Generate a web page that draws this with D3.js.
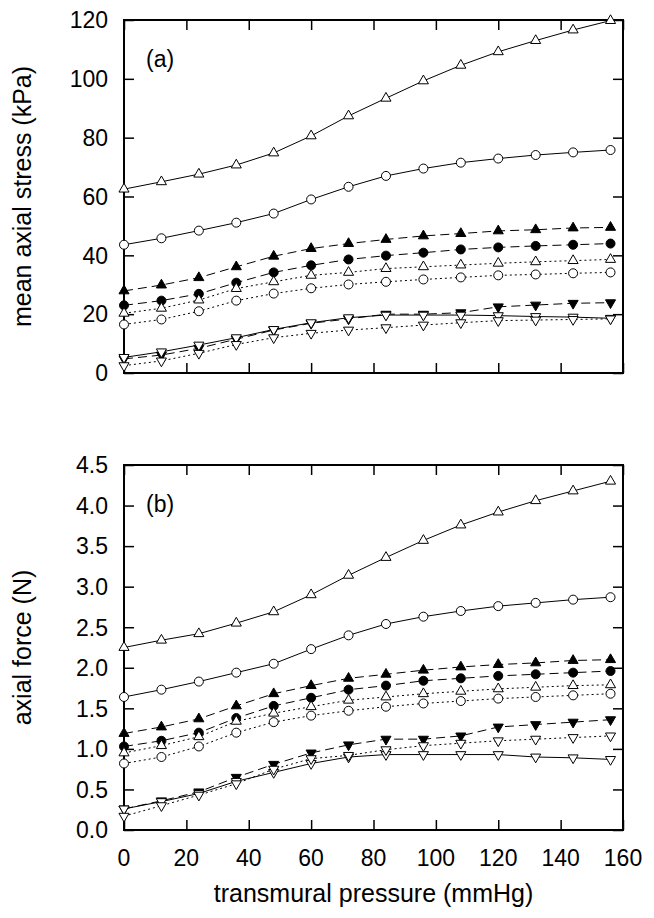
<!DOCTYPE html>
<html>
<head>
<meta charset="utf-8">
<script src="https://cdn.jsdelivr.net/npm/d3@7"></script>
<style>
html, body { margin: 0; padding: 0; background: #fff; }
svg { display: block; }
text { font-family: "Liberation Sans", Arial, sans-serif; fill: #000; }
</style>
</head>
<body>
<svg id="chart" width="654" height="918"></svg>
<script>
// ---------- data ----------
const pressure = [0, 12, 24, 36, 48, 60, 72, 84, 96, 108, 120, 132, 144, 156];
const xTicks = [0, 20, 40, 60, 80, 100, 120, 140, 160];
const stressTicks = [0, 20, 40, 60, 80, 100, 120];
const forceTicks = [0, 0.5, 1.0, 1.5, 2.0, 2.5, 3.0, 3.5, 4.0, 4.5];

// panel (a): mean axial stress (kPa)
const stressS1 = [62.5, 65.0, 67.6, 70.7, 74.8, 80.6, 87.4, 93.4, 99.3, 104.6, 109.2, 113.0, 116.6, 119.8];
const stressS2 = [43.6, 45.8, 48.4, 51.1, 54.2, 59.0, 63.3, 67.0, 69.5, 71.5, 72.9, 74.1, 75.0, 75.8];
const stressS3 = [27.9, 29.9, 32.4, 36.1, 39.7, 42.3, 44.0, 45.4, 46.6, 47.4, 48.3, 48.7, 49.3, 49.5];
const stressS4 = [23.0, 24.6, 26.9, 30.7, 34.2, 36.6, 38.6, 39.9, 40.9, 42.0, 42.7, 43.2, 43.6, 44.0];
const stressS5 = [20.3, 22.0, 24.8, 28.7, 31.0, 33.2, 34.2, 35.5, 36.1, 36.7, 37.3, 37.8, 38.2, 38.6];
const stressS6 = [16.5, 18.2, 21.0, 24.6, 27.0, 28.8, 30.1, 31.0, 31.8, 32.5, 33.2, 33.5, 33.9, 34.2];
const stressS7 = [4.8, 6.1, 8.4, 11.5, 14.6, 16.9, 18.4, 20.0, 20.0, 20.5, 22.5, 23.1, 23.7, 23.9];
const stressS8 = [5.3, 7.2, 9.5, 12.0, 14.8, 17.1, 18.8, 19.7, 19.7, 19.7, 19.5, 19.2, 19.0, 18.6];
const stressS9 = [2.5, 4.1, 6.7, 9.7, 12.0, 13.5, 14.6, 15.4, 16.3, 17.1, 17.8, 18.0, 18.2, 18.4];

// panel (b): axial force (N)
const forceS1 = [2.25, 2.34, 2.42, 2.55, 2.69, 2.90, 3.14, 3.36, 3.57, 3.76, 3.92, 4.06, 4.18, 4.30];
const forceS2 = [1.64, 1.73, 1.83, 1.94, 2.05, 2.23, 2.40, 2.54, 2.63, 2.70, 2.76, 2.80, 2.84, 2.87];
const forceS3 = [1.19, 1.27, 1.37, 1.53, 1.68, 1.78, 1.87, 1.92, 1.97, 2.01, 2.04, 2.06, 2.09, 2.10];
const forceS4 = [1.03, 1.10, 1.20, 1.38, 1.53, 1.63, 1.73, 1.78, 1.84, 1.87, 1.90, 1.92, 1.94, 1.96];
const forceS5 = [0.95, 1.04, 1.15, 1.34, 1.44, 1.52, 1.60, 1.64, 1.68, 1.71, 1.74, 1.76, 1.78, 1.79];
const forceS6 = [0.82, 0.90, 1.03, 1.20, 1.33, 1.41, 1.47, 1.52, 1.56, 1.59, 1.62, 1.64, 1.66, 1.68];
const forceS7 = [0.26, 0.36, 0.47, 0.65, 0.81, 0.95, 1.05, 1.12, 1.12, 1.16, 1.27, 1.30, 1.33, 1.36];
const forceS8 = [0.26, 0.35, 0.45, 0.60, 0.71, 0.82, 0.90, 0.93, 0.93, 0.93, 0.93, 0.90, 0.89, 0.87];
const forceS9 = [0.17, 0.30, 0.43, 0.57, 0.75, 0.88, 0.92, 0.99, 1.04, 1.07, 1.10, 1.12, 1.14, 1.16];

// series styles: line dash, marker shape, filled?
const seriesStyle = [
  { dash: null,  marker: "triUp",   filled: false },
  { dash: null,  marker: "circle",  filled: false },
  { dash: "9,5", marker: "triUp",   filled: true },
  { dash: "9,5", marker: "circle",  filled: true },
  { dash: "2,3", marker: "triUp",   filled: false },
  { dash: "2,3", marker: "circle",  filled: false },
  { dash: "9,5", marker: "triDown", filled: true },
  { dash: null,  marker: "triDown", filled: false },
  { dash: "2,3", marker: "triDown", filled: false }
];
const stressSeries = [stressS1, stressS2, stressS3, stressS4, stressS5, stressS6, stressS7, stressS8, stressS9];
const forceSeries = [forceS1, forceS2, forceS3, forceS4, forceS5, forceS6, forceS7, forceS8, forceS9];

// ---------- drawing ----------
const svg = d3.select("#chart");
const left = 124, right = 623;
const x = d3.scaleLinear().domain([0, 160]).range([left, right]);

function panel(top, bottom, domainMax, ticks, fmt, series, yTitle, tag) {
  const y = d3.scaleLinear().domain([0, domainMax]).range([bottom, top]);
  const g = svg.append("g");
  const tl = 10;

  // inward ticks on all four sides
  g.append("g").attr("transform", `translate(0,${bottom})`)
    .call(d3.axisTop(x).tickValues(xTicks).tickSize(tl).tickFormat(""))
    .call(a => a.select(".domain").remove());
  g.append("g").attr("transform", `translate(0,${top})`)
    .call(d3.axisBottom(x).tickValues(xTicks).tickSize(tl).tickFormat(""))
    .call(a => a.select(".domain").remove());
  g.append("g").attr("transform", `translate(${left},0)`)
    .call(d3.axisRight(y).tickValues(ticks).tickSize(tl).tickFormat(""))
    .call(a => a.select(".domain").remove());
  g.append("g").attr("transform", `translate(${right},0)`)
    .call(d3.axisLeft(y).tickValues(ticks).tickSize(tl).tickFormat(""))
    .call(a => a.select(".domain").remove());
  g.selectAll(".tick line").attr("stroke", "#000").attr("stroke-width", 1.5);

  // y tick labels
  g.selectAll("text.ytl").data(ticks).enter().append("text")
    .attr("class", "ytl")
    .attr("x", left - 16).attr("y", d => y(d))
    .attr("dy", "0.36em")
    .attr("text-anchor", "end")
    .style("font-size", "23px")
    .text(fmt);

  // frame
  g.append("rect").attr("x", left).attr("y", top)
    .attr("width", right - left).attr("height", bottom - top)
    .attr("fill", "none").attr("stroke", "#000").attr("stroke-width", 2);

  // lines
  const line = d3.line().x((d, i) => x(pressure[i])).y(d => y(d));
  series.forEach((s, k) => {
    g.append("path").datum(s)
      .attr("d", line)
      .attr("fill", "none")
      .attr("stroke", "#000")
      .attr("stroke-width", 1)
      .attr("stroke-dasharray", seriesStyle[k].dash);
  });
  // markers
  const tri = d3.symbol().type(d3.symbolTriangle).size(44);
  series.forEach((s, k) => {
    const st = seriesStyle[k];
    const mg = g.append("g");
    s.forEach((v, i) => {
      const cx = x(pressure[i]), cy = y(v);
      let m;
      if (st.marker === "circle") {
        m = mg.append("circle").attr("cx", cx).attr("cy", cy).attr("r", 4.5);
      } else {
        m = mg.append("path").attr("d", tri())
          .attr("transform", `translate(${cx},${cy})` + (st.marker === "triDown" ? " rotate(180)" : ""));
      }
      m.attr("fill", st.filled ? "#000" : "#fff")
       .attr("stroke", "#000").attr("stroke-width", 1);
    });
  });

  // panel tag
  g.append("text").attr("x", 146).attr("y", top + 47)
    .style("font-size", "23px").text(tag);

  // y title
  g.append("text")
    .attr("transform", `translate(31,${(top + bottom) / 2}) rotate(-90)`)
    .attr("text-anchor", "middle")
    .style("font-size", "25px")
    .text(yTitle);
  return y;
}

panel(20, 373, 120, stressTicks, d => d3.format("d")(d), stressSeries, "mean axial stress (kPa)", "(a)");
panel(465, 830, 4.5, forceTicks, d => d3.format(".1f")(d), forceSeries, "axial force (N)", "(b)");

// x tick labels (bottom panel only)
svg.selectAll("text.xtl").data(xTicks).enter().append("text")
  .attr("class", "xtl")
  .attr("x", d => x(d)).attr("y", 866)
  .attr("text-anchor", "middle")
  .style("font-size", "23px")
  .text(d => d);

svg.append("text")
  .attr("x", (left + right) / 2).attr("y", 902)
  .attr("text-anchor", "middle")
  .style("font-size", "25px")
  .text("transmural pressure (mmHg)");
</script>
</body>
</html>
